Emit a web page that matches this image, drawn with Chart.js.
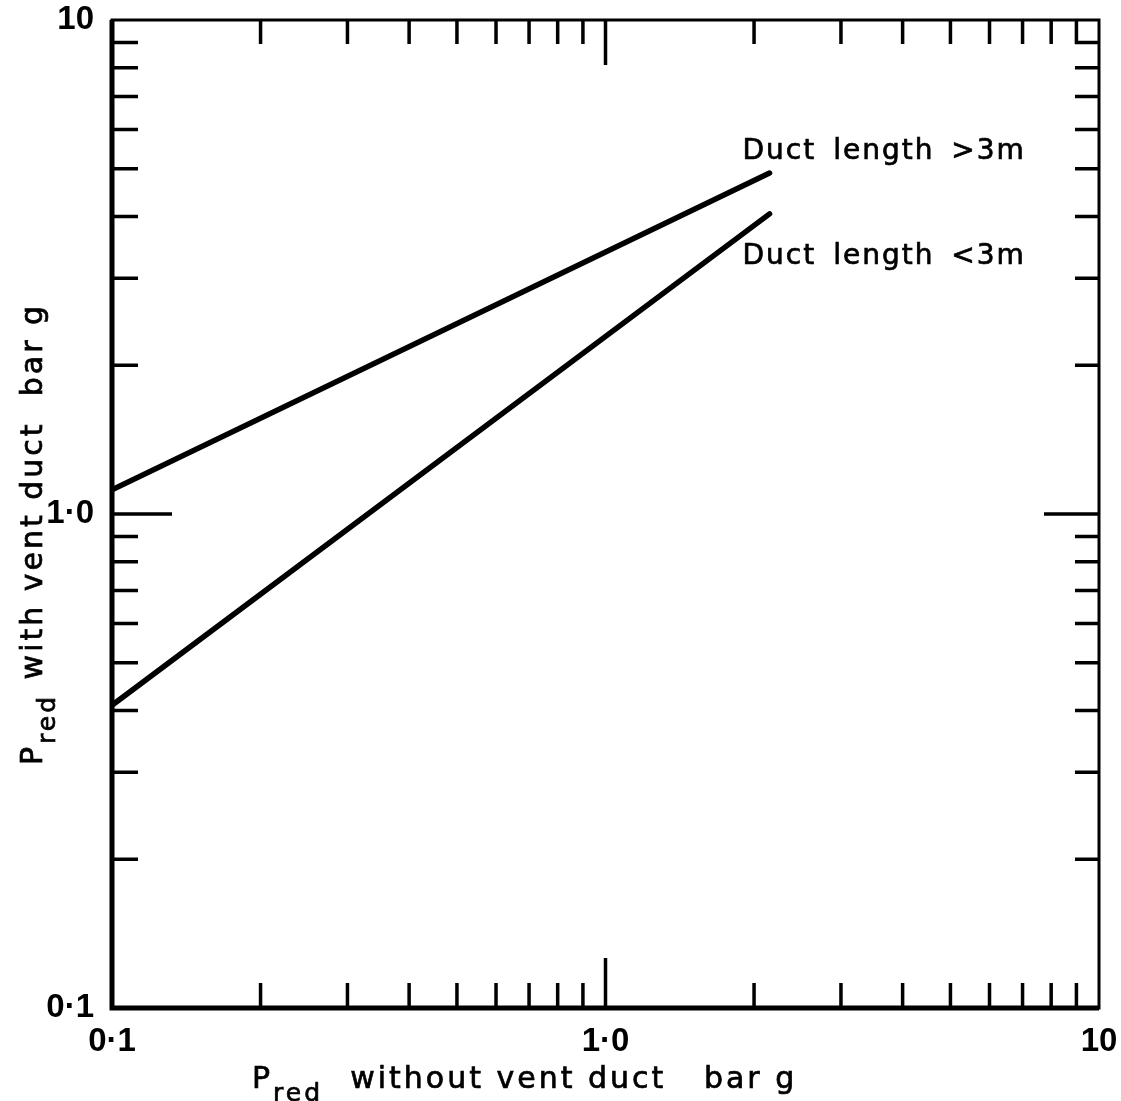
<!DOCTYPE html>
<html>
<head>
<meta charset="utf-8">
<script src="https://cdn.jsdelivr.net/npm/chart.js@4.4.1/dist/chart.umd.min.js"></script>
<style>
  html, body { margin: 0; padding: 0; background: #fff; }
  #wrap { width: 1121px; height: 1101px; }
</style>
</head>
<body>
<div id="wrap"><canvas id="myChart"></canvas></div>
<script>
// values (log-log, bar g)
var xLong = [0.1, 2.15];
var yLong = [1.12, 4.9];
var xShort = [0.1, 2.15];
var yShort = [0.41, 4.05];
var seriesNames = ['Duct length >3m', 'Duct length <3m'];

var tickValues = [0.1, 1, 10];
var tickLabels = ['0·1', '1·0', '10'];
var minorTicks = [0.2, 0.3, 0.4, 0.5, 0.6, 0.7, 0.8, 0.9, 2, 3, 4, 5, 6, 7, 8, 9];
var majorTicks = [1];

var xTitle = [{ t: 'P' }, { t: 'red', sub: true }, { t: '  without vent duct   bar g' }];
var yTitle = [{ t: 'P' }, { t: 'red', sub: true }, { t: ' with vent duct  bar g' }];

var textFont = '30px "DejaVu Sans", sans-serif';
var subFont = '25px "DejaVu Sans", sans-serif';
var tickFont = { family: '"Liberation Sans", Arial, sans-serif', size: 33, weight: 'bold' };

function toPoints(xs, ys) {
    return xs.map(function(x, i) { return { x: x, y: ys[i] }; });
}

// fill + thin stroke, the scan's lettering is a bit heavier than DejaVu Book
function heavyText(ctx, t, x, y) {
    ctx.fillText(t, x, y);
    ctx.strokeText(t, x, y);
}

function drawParts(ctx, parts) {
    var x = 0;
    parts.forEach(function(p) {
        ctx.font = p.sub ? subFont : textFont;
        heavyText(ctx, p.t, x, p.sub ? 13 : 0);
        x += ctx.measureText(p.t).width + (p.sub ? 2 : 0);
    });
}

// inward ticks, frame, titles and curve labels
var framePlugin = {
    id: 'frame',
    afterDraw: function(chart) {
        var ctx = chart.ctx;
        var a = chart.chartArea;
        var xs = chart.scales.x, ys = chart.scales.y;
        ctx.save();
        ctx.strokeStyle = '#000';
        ctx.fillStyle = '#000';
        ctx.lineCap = 'butt';

        ctx.lineWidth = 3;
        ctx.strokeRect(a.left, a.top, a.right - a.left, a.bottom - a.top);
        ctx.lineWidth = 5;
        ctx.beginPath();
        ctx.moveTo(a.left, a.top); ctx.lineTo(a.left, a.bottom); ctx.lineTo(a.right, a.bottom);
        ctx.stroke();

        ctx.lineWidth = 3.5;
        // len: [bottom, top, left, right]
        function tick(list, len) {
            list.forEach(function(v) {
                var px = xs.getPixelForValue(v);
                var py = ys.getPixelForValue(v);
                ctx.beginPath();
                ctx.moveTo(px, a.bottom); ctx.lineTo(px, a.bottom - len[0]);
                ctx.moveTo(px, a.top); ctx.lineTo(px, a.top + len[1]);
                ctx.moveTo(a.left, py); ctx.lineTo(a.left + len[2], py);
                ctx.moveTo(a.right, py); ctx.lineTo(a.right - len[3], py);
                ctx.stroke();
            });
        }
        tick(minorTicks, [25, 24, 26, 24]);
        tick(majorTicks, [50, 45, 60, 55]);

        ctx.textBaseline = 'alphabetic';
        ctx.textAlign = 'left';
        ctx.lineWidth = 0.7;
        ctx.letterSpacing = '3px';
        ctx.wordSpacing = '3px';

        // x title
        ctx.save();
        ctx.translate(252, 1088);
        drawParts(ctx, xTitle);
        ctx.restore();

        // y title
        ctx.save();
        ctx.translate(42, 765);
        ctx.rotate(-Math.PI / 2);
        drawParts(ctx, yTitle);
        ctx.restore();

        // curve labels next to the line ends
        ctx.font = '28px "DejaVu Sans", sans-serif';
        ctx.letterSpacing = '2px';
        ctx.wordSpacing = '6px';
        chart.data.datasets.forEach(function(ds, i) {
            var last = ds.data[ds.data.length - 1];
            var px = xs.getPixelForValue(last.x);
            var py = ys.getPixelForValue(last.y);
            var dy = i === 0 ? -14 : 50;
            heavyText(ctx, ds.label, px - 27, py + dy);
        });
        ctx.restore();
    }
};

function logAxis(pos) {
    return {
        type: 'logarithmic',
        position: pos,
        min: 0.1,
        max: 10,
        afterBuildTicks: function(scale) {
            scale.ticks = tickValues.map(function(v) { return { value: v }; });
        },
        afterFit: function(scale) {
            if (pos === 'left') scale.width = 112;
            else scale.height = 93;
            // keep the edge labels from pushing the plot area in
            scale.paddingLeft = scale.paddingRight = 0;
            scale.paddingTop = scale.paddingBottom = 0;
        },
        grid: { display: false },
        border: { display: false },
        ticks: {
            autoSkip: false,
            maxRotation: 0,
            color: '#000',
            font: tickFont,
            padding: pos === 'left' ? 10 : 6,
            callback: function(value) {
                var i = tickValues.indexOf(value);
                return i >= 0 ? tickLabels[i] : '';
            }
        }
    };
}

var ctx = document.getElementById('myChart').getContext('2d');
var myChart = new Chart(ctx, {
    type: 'line',
    data: {
        datasets: [{
            label: seriesNames[0],
            data: toPoints(xLong, yLong),
            borderColor: '#000',
            borderWidth: 5.5,
            pointRadius: 0,
            borderCapStyle: 'round'
        }, {
            label: seriesNames[1],
            data: toPoints(xShort, yShort),
            borderColor: '#000',
            borderWidth: 5.5,
            pointRadius: 0,
            borderCapStyle: 'round'
        }]
    },
    options: {
        responsive: true,
        maintainAspectRatio: false,
        animation: false,
        layout: { padding: { left: 0, right: 22, top: 20, bottom: 0 } },
        plugins: {
            legend: { display: false },
            tooltip: { enabled: false }
        },
        scales: {
            x: logAxis('bottom'),
            y: logAxis('left')
        }
    },
    plugins: [framePlugin]
});
</script>
</body>
</html>
